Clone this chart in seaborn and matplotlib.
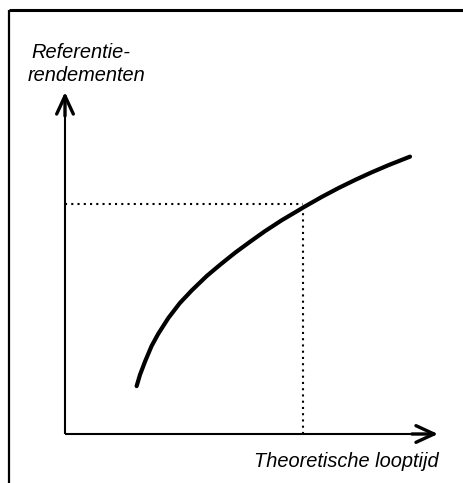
# Yield curve sketch: referentierendementen vs theoretische looptijd

import pandas as pd
import seaborn as sns
import matplotlib.pyplot as plt
from matplotlib.lines import Line2D

# -----------------------------
# Data (arbitrary units, origin = axis corner)
# -----------------------------
looptijd = [1.92, 2.01, 2.15, 2.32, 2.50, 2.77, 3.08, 3.40, 3.80, 4.16,
            4.56, 4.96, 5.36, 5.81, 6.26, 6.38, 6.88, 7.33, 7.78, 8.22,
            8.67, 9.25]
rendement = [1.40, 1.73, 2.13, 2.57, 2.93, 3.39, 3.83, 4.20, 4.62, 4.95,
             5.30, 5.62, 5.93, 6.25, 6.54, 6.62, 6.93, 7.19, 7.43, 7.65,
             7.86, 8.11]
marked_x = 6.37
marked_y = 6.72
x_axis_end = 10.0
y_axis_end = 10.0

y_label_1 = "Referentie-"
y_label_2 = "rendementen"
x_label = "Theoretische looptijd"

W, H = 463, 483
ORIGIN = (65, 434)      # pixel position of axis corner
PX_X = 37.3             # pixels per x unit
PX_Y = 34.2             # pixels per y unit

sns.set_style("white")
plt.rcParams['font.family'] = ['Liberation Sans', 'DejaVu Sans']
plt.rcParams['text.color'] = 'black'

fig = plt.figure(figsize=(W / 100, H / 100), dpi=100)
ax = fig.add_axes([0, 0, 1, 1])
ax.set_xlim(-ORIGIN[0] / PX_X, (W - ORIGIN[0]) / PX_X)
ax.set_ylim((ORIGIN[1] - H) / PX_Y, ORIGIN[1] / PX_Y)
ax.axis("off")

df = pd.DataFrame({"looptijd": looptijd, "rendement": rendement})

# -----------------------------
# Curve + guide lines
# -----------------------------
sns.lineplot(data=df, x="looptijd", y="rendement", ax=ax, color="black",
             linewidth=3.0, sort=False, estimator=None,
             solid_capstyle="round", solid_joinstyle="round")
ax.plot([0, marked_x], [marked_y, marked_y], color="black", lw=1.5,
        linestyle=(0, (1, 2)))
ax.plot([marked_x, marked_x], [0, marked_y], color="black", lw=1.5,
        linestyle=(0, (1, 2)))

# -----------------------------
# Axes with arrow heads
# -----------------------------
ax.plot([0, x_axis_end - 0.1], [0, 0], color="black", lw=1.5,
        solid_capstyle="butt")
ax.plot([0, 0], [0, y_axis_end - 0.1], color="black", lw=1.5,
        solid_capstyle="butt")
head = dict(arrowstyle="->,head_length=1.3,head_width=0.6", color="black",
            lw=2.4, shrinkA=0, shrinkB=0)
ax.annotate("", xy=(x_axis_end, 0), xytext=(x_axis_end - 0.7, 0),
            arrowprops=head)
ax.annotate("", xy=(0, y_axis_end), xytext=(0, y_axis_end - 0.7),
            arrowprops=head)

# -----------------------------
# Frame (top and left only)
# -----------------------------
def fx(px):
    return px / W

def fy(py):
    return 1 - py / H

fig.add_artist(Line2D([fx(9), fx(W)], [fy(10), fy(10)], color="black",
                      lw=2.2, solid_capstyle="butt"))
fig.add_artist(Line2D([fx(9), fx(9)], [fy(10), fy(H)], color="black",
                      lw=1.6, solid_capstyle="butt"))

# -----------------------------
# Labels
# -----------------------------
fig.text(fx(31), fy(58), y_label_1, fontsize=14.4, style="italic",
         ha="left", va="baseline")
fig.text(fx(28), fy(81), y_label_2, fontsize=14.4, style="italic",
         ha="left", va="baseline")
fig.text(fx(439), fy(467), x_label, fontsize=14.4, style="italic",
         ha="right", va="baseline")

plt.savefig("out.png", dpi=100)
plt.close()
